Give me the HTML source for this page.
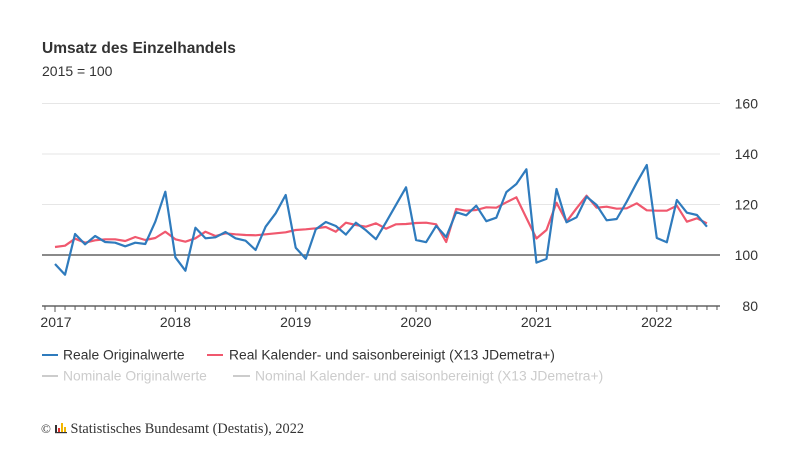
<!DOCTYPE html>
<html><head><meta charset="utf-8"><style>
html,body{margin:0;padding:0;background:#fff;}
svg{display:block;}
text{font-family:"Liberation Sans",Arial,sans-serif;}
</style></head><body>
<svg width="800" height="450" viewBox="0 0 800 450" xmlns="http://www.w3.org/2000/svg">
<rect width="800" height="450" fill="#fff"/>
<text x="42" y="53" font-size="15.5" font-weight="bold" fill="#333">Umsatz des Einzelhandels</text>
<text x="42" y="76" font-size="14" fill="#333">2015 = 100</text>
<g stroke="#e6e6e6" stroke-width="1">
<line x1="42" y1="103.5" x2="720" y2="103.5"/>
<line x1="42" y1="154" x2="720" y2="154"/>
<line x1="42" y1="204.5" x2="720" y2="204.5"/>
</g>
<line x1="42" y1="255" x2="720" y2="255" stroke="#444" stroke-width="1.2"/>
<line x1="42" y1="306" x2="720" y2="306" stroke="#444" stroke-width="1.2"/>
<g stroke="#555" stroke-width="1" id="ticks"></g>
<g font-size="14" fill="#333" text-anchor="end">
<text x="758" y="108.5">160</text>
<text x="758" y="159">140</text>
<text x="758" y="209.5">120</text>
<text x="758" y="260">100</text>
<text x="758" y="311">80</text>
</g>
<g font-size="14" fill="#333" text-anchor="middle">
<text x="56" y="327">2017</text>
<text x="175.4" y="327">2018</text>
<text x="295.7" y="327">2019</text>
<text x="416" y="327">2020</text>
<text x="536.4" y="327">2021</text>
<text x="656.7" y="327">2022</text>
</g>
<polyline id="red" fill="none" stroke="#f0586e" stroke-width="2.2" stroke-linejoin="round" points=""/>
<polyline id="blue" fill="none" stroke="#2f7bbd" stroke-width="2.2" stroke-linejoin="round" points=""/>
<line x1="42" y1="355" x2="58" y2="355" stroke="#2f7bbd" stroke-width="2"/>
<text x="63" y="359.5" font-size="13.85" fill="#333">Reale Originalwerte</text>
<line x1="207" y1="355" x2="223" y2="355" stroke="#f0586e" stroke-width="2"/>
<text x="229" y="359.5" font-size="13.85" fill="#333">Real Kalender- und saisonbereinigt (X13 JDemetra+)</text>
<line x1="42" y1="376" x2="58" y2="376" stroke="#cccccc" stroke-width="2"/>
<text x="63" y="380.5" font-size="13.85" fill="#cccccc">Nominale Originalwerte</text>
<line x1="233" y1="376" x2="250" y2="376" stroke="#cccccc" stroke-width="2"/>
<text x="255" y="380.5" font-size="13.85" fill="#cccccc">Nominal Kalender- und saisonbereinigt (X13 JDemetra+)</text>
<text x="41" y="433" font-size="13" fill="#333" style="font-family:'Liberation Serif',serif">©</text>
<g>
<rect x="55" y="425" width="2" height="8" fill="#333"/>
<rect x="58" y="428" width="2" height="5" fill="#e0302f"/>
<rect x="61" y="423" width="2" height="10" fill="#f2b600"/>
<rect x="64" y="427" width="2" height="6" fill="#f2b600"/>
<rect x="55" y="432" width="12" height="1.2" fill="#333"/>
</g>
<text x="70.5" y="433" font-size="14.3" fill="#333" style="font-family:'Liberation Serif',serif">Statistisches Bundesamt (Destatis), 2022</text>
</svg>
<script>
var blue=[264,274.7,234,244.3,236,242,242.7,246.3,242.7,244,221.7,191.7,257.3,270.7,227.7,238.3,237.3,232,238.3,240.7,250,226.7,213.3,195,247.7,258.7,229.3,222,226,234.6,222.7,230.3,239.2,222.3,204.8,187.3,240,242.2,225.9,237,212.2,215.3,205.7,221.2,217.7,192.1,184,169.3,262.6,258.9,189,222.3,217.3,196.7,205,220.3,219,201.7,182.7,165,238,242.3,200,212.7,215,226.7];
var red=[247,245.7,238.7,242.7,240.3,239.3,239.3,241,237,240,238,231.7,239.3,241.7,238.3,231.7,236,233.3,234.3,235,235.3,234.3,233.3,232.3,230,229.3,228.3,227,231.7,222.7,225,226.7,223.3,228.7,224.3,224,223,222.7,224.3,242,209,210.7,210,207.3,207.7,202.3,197.3,218,238.5,230,202.7,221.7,208.3,195.7,207.7,206.7,208.7,208.3,203.3,210.3,210.7,210.7,205.7,221.7,218.3,223.3];
function pts(a){return a.map(function(y,i){return (55+10.03*i).toFixed(2)+","+y;}).join(" ");}
document.getElementById("blue").setAttribute("points",pts(blue));
document.getElementById("red").setAttribute("points",pts(red));
var g=document.getElementById("ticks"),s="";
for(var k=-1;k<=66;k++){var x=55+10.03*k;var yr=(k%12===0&&k>=0&&k<=60);s+='<line x1="'+x+'" y1="306" x2="'+x+'" y2="'+(yr?312:310)+'"/>';}
g.innerHTML=s;
</script>
</body></html>
